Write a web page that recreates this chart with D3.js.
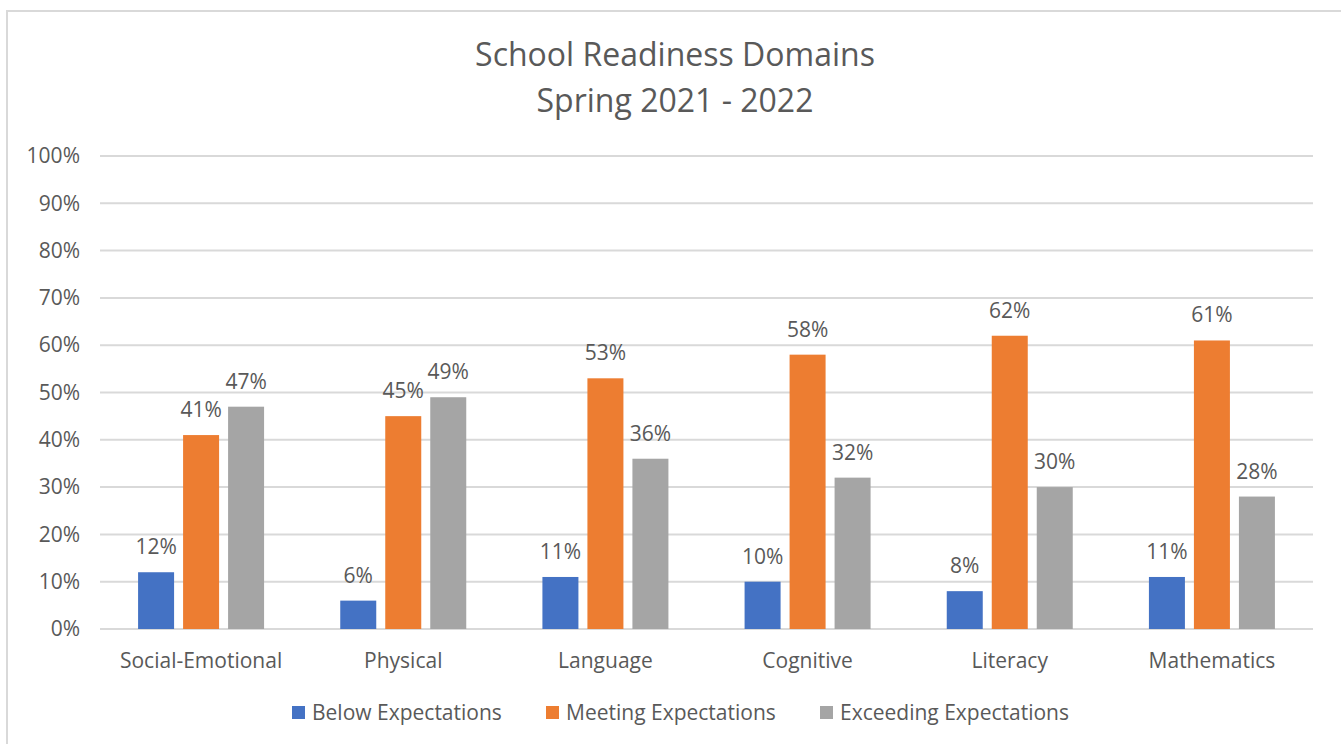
<!DOCTYPE html>
<meta charset="utf-8">
<style>
    body { margin: 0; background: #fff; }
    text { font-family: "Open Sans", Lato, sans-serif; fill: #595959; }
</style>
<script src="https://d3js.org/d3.v7.min.js"></script>
<div id="chart"></div>
<script>
    // data
    var categories = ["Social-Emotional", "Physical", "Language", "Cognitive", "Literacy", "Mathematics"];
    var series = ["Below Expectations", "Meeting Expectations", "Exceeding Expectations"];
    var below = [12, 6, 11, 10, 8, 11];
    var meeting = [41, 45, 53, 58, 62, 61];
    var exceeding = [47, 49, 36, 32, 30, 28];
    var yTicks = [0, 10, 20, 30, 40, 50, 60, 70, 80, 90, 100];
    var colors = ["#4472C4", "#ED7D31", "#A5A5A5"];

    var values = [below, meeting, exceeding];

    var width = 1341, height = 744;
    var plot = {left: 100, right: 1313, top: 156, bottom: 629};
    var fontSize = "21px";

    var svg = d3.select("#chart").append("svg")
        .attr("width", width).attr("height", height);

    // chart frame
    svg.append("rect")
        .attr("x", 7).attr("y", 11)
        .attr("width", 1345).attr("height", 745)
        .attr("fill", "#fff").attr("stroke", "#d9d9d9").attr("stroke-width", 2);

    // title
    var title = svg.append("text")
        .attr("text-anchor", "middle")
        .attr("font-size", "32px");
    title.append("tspan").attr("x", 675).attr("y", 66).text("School Readiness Domains");
    title.append("tspan").attr("x", 675).attr("y", 112).text("Spring 2021 - 2022");

    // scales
    var y = d3.scaleLinear().domain([0, 100]).range([plot.bottom, plot.top]);
    var x0 = d3.scaleBand().domain(categories).range([plot.left, plot.right]);
    var groupWidth = 126;
    var x1 = d3.scaleBand().domain(series).range([0, groupWidth]).paddingInner(0.2);

    // gridlines
    svg.append("g").selectAll("line")
        .data(yTicks).join("line")
        .attr("x1", plot.left).attr("x2", plot.right)
        .attr("y1", d => y(d)).attr("y2", d => y(d))
        .attr("stroke", "#d9d9d9").attr("stroke-width", 2);

    // y axis labels
    var yAxis = d3.axisLeft(y).tickValues(yTicks).tickFormat(d => d + "%").tickSize(0).tickPadding(0);
    var yg = svg.append("g").attr("transform", "translate(80,0)").call(yAxis);
    yg.select(".domain").remove();
    yg.selectAll("text").attr("font-size", fontSize).attr("fill", "#595959")
        .attr("font-family", null);

    // x axis labels
    var xAxis = d3.axisBottom(x0).tickSize(0).tickPadding(0);
    var xg = svg.append("g").attr("transform", "translate(0," + plot.bottom + ")").call(xAxis);
    xg.select(".domain").remove();
    xg.selectAll("text").attr("font-size", fontSize).attr("fill", "#595959")
        .attr("font-family", null).attr("dy", null).attr("y", 39);

    // bars
    var groups = svg.append("g").selectAll("g")
        .data(categories).join("g")
        .attr("transform", d => "translate(" + (x0(d) + (x0.bandwidth() - groupWidth) / 2) + ",0)");

    groups.selectAll("rect")
        .data((c, ci) => series.map((s, si) => ({s: s, si: si, v: values[si][ci]})))
        .join("rect")
        .attr("x", d => x1(d.s))
        .attr("width", x1.bandwidth())
        .attr("y", d => y(d.v))
        .attr("height", d => y(0) - y(d.v))
        .attr("fill", d => colors[d.si]);

    // data labels
    groups.selectAll("text")
        .data((c, ci) => series.map((s, si) => ({s: s, si: si, v: values[si][ci]})))
        .join("text")
        .attr("x", d => x1(d.s) + x1.bandwidth() / 2)
        .attr("y", d => y(d.v) - 18)
        .attr("text-anchor", "middle")
        .attr("font-size", fontSize)
        .text(d => d.v + "%");

    // legend
    var legendX = [292, 546, 820];
    var legend = svg.append("g").selectAll("g")
        .data(series).join("g")
        .attr("transform", (d, i) => "translate(" + legendX[i] + ",706)");
    legend.append("rect")
        .attr("width", 13).attr("height", 13)
        .attr("fill", (d, i) => colors[i]);
    legend.append("text")
        .attr("x", 20).attr("y", 14)
        .attr("font-size", fontSize)
        .text(d => d);
</script>
